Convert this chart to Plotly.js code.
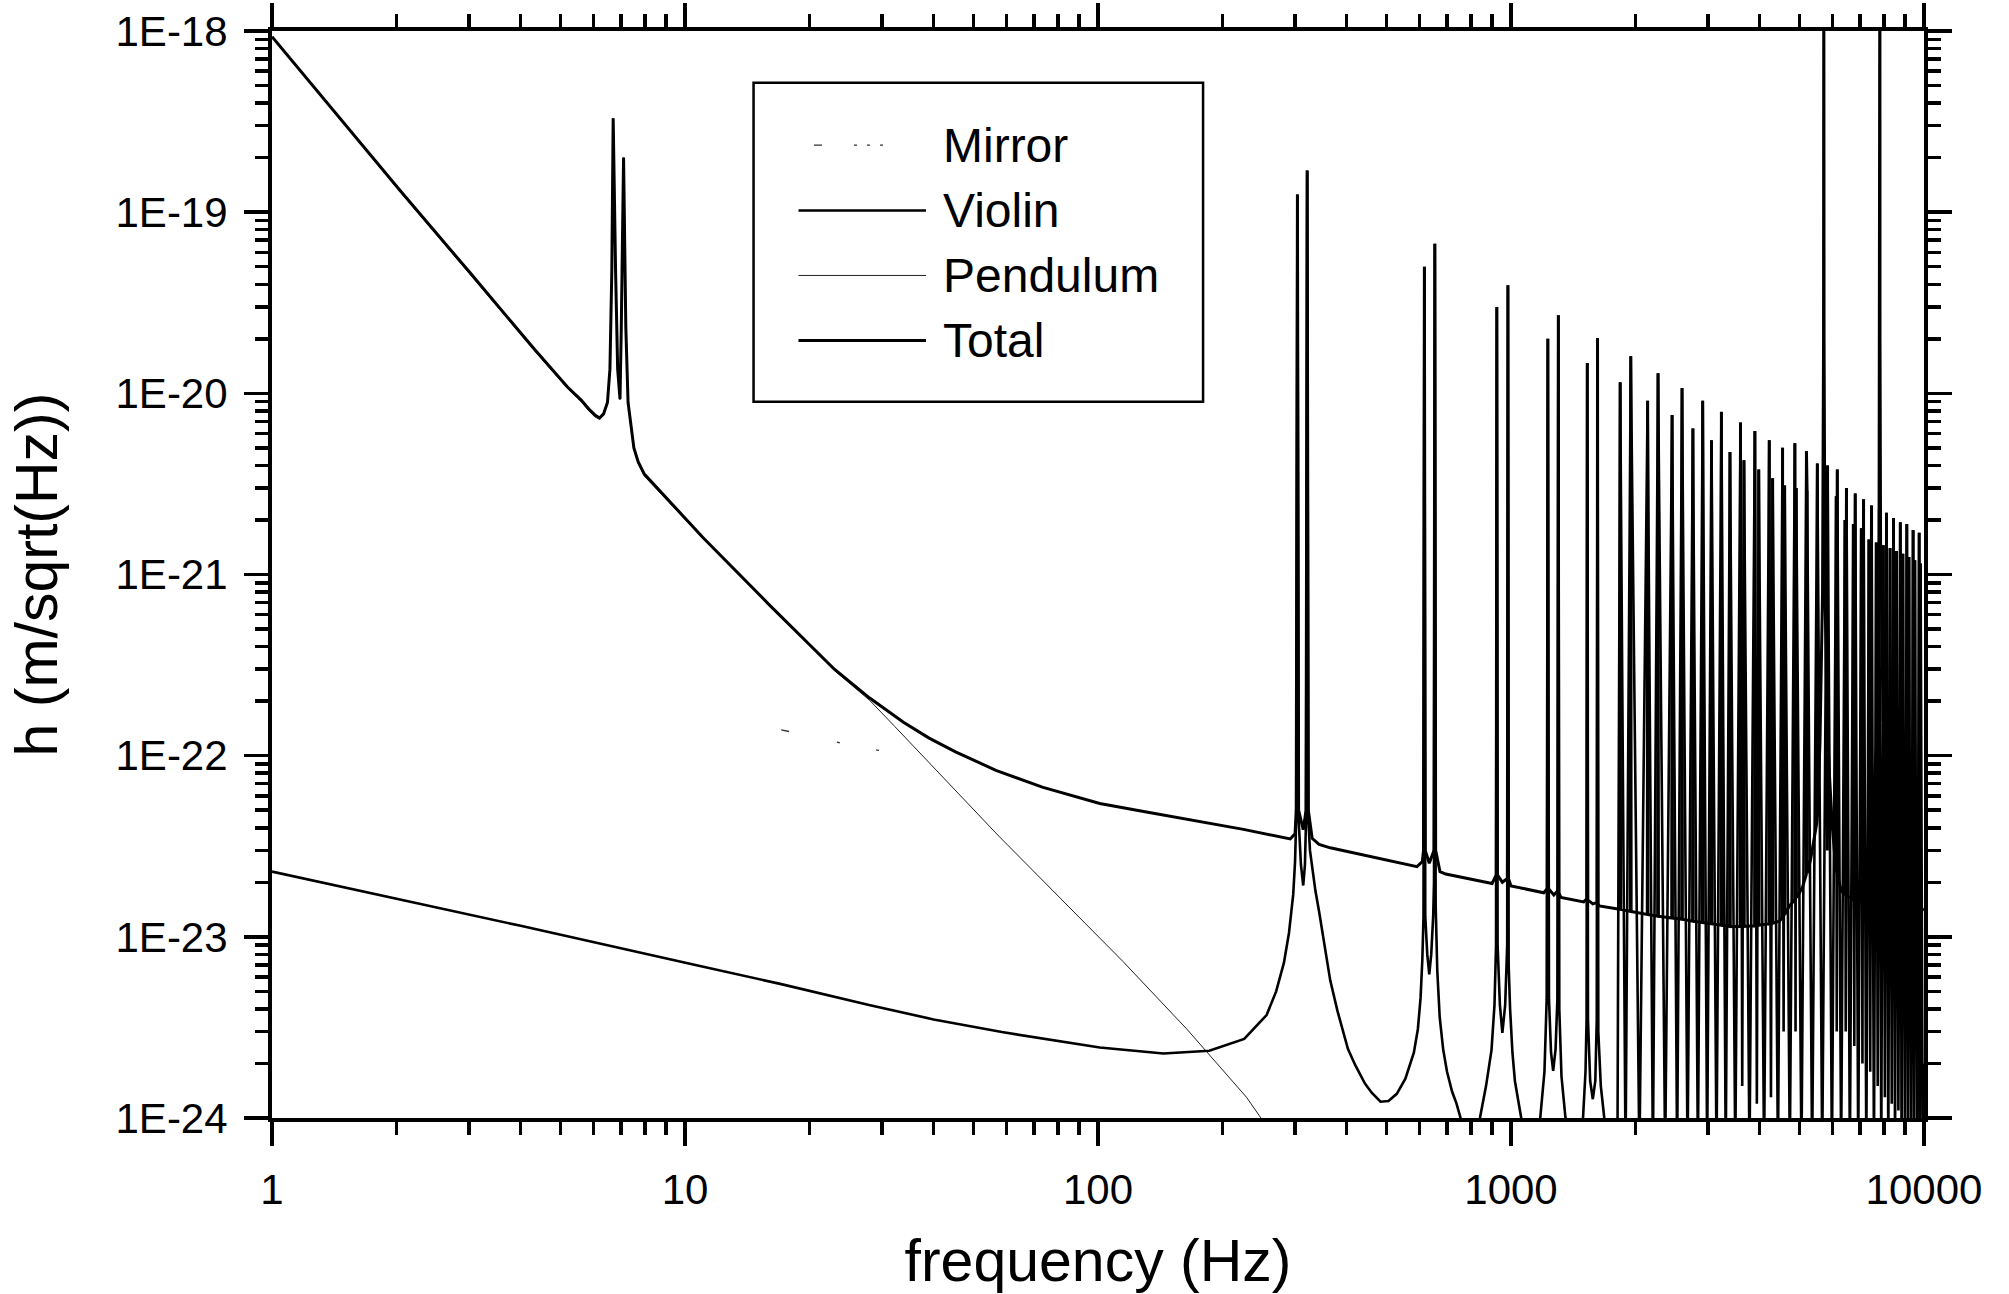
<!DOCTYPE html>
<html><head><meta charset="utf-8">
<script src="https://cdn.plot.ly/plotly-3.0.1.min.js"></script>
<style>html,body{margin:0;padding:0;background:#fff}</style>
</head><body><div id="chart" style="width:2009px;height:1294px"></div>
<script>
const SERIES_NAMES = ['Mirror', 'Violin', 'Pendulum', 'Total'];
const X_TICK_VALUES = [1, 10, 100, 1000, 10000];
const X_TICK_TEXT = ['1', '10', '100', '1000', '10000'];
const Y_TICK_VALUES = [1e-18, 1e-19, 1e-20, 1e-21, 1e-22, 1e-23, 1e-24];
const Y_TICK_TEXT = ['1E-18', '1E-19', '1E-20', '1E-21', '1E-22', '1E-23', '1E-24'];
const X_TITLE = 'frequency (Hz)';
const Y_TITLE = 'h (m/sqrt(Hz))';

// [frequency Hz, h]
const PENDULUM = [[1,9.3e-19],[2.04,1.3e-19],[3.0,4.6e-20],[4.32,1.72e-20],[5.2,1.06e-20],[5.6,9.0e-21],[5.85,8.0e-21],[6.05,7.4e-21],[6.21,7.2e-21],[6.35,7.6e-21],[6.49,8.8e-21],[6.58,1.35e-20],[6.65,4.8e-20],[6.70,3.3e-19],[6.79,4.8e-20],[6.87,1.35e-20],[6.96,9.2e-21],[7.01,2.3e-20],[7.10,2.0e-19],[7.19,2.3e-20],[7.28,8.8e-21],[7.41,6.3e-21],[7.52,4.9e-21],[7.7,4.1e-21],[7.96,3.5e-21],[11.05,1.58e-21],[16.0,6.75e-22],[23.0,2.95e-22],[28,2.02e-22],[32.2,1.45e-22],[57.5,3.6e-23],[115,7.3e-24],[164,3.1e-24],[229,1.3e-24],[248,1.0e-24],[300,6e-25]];

const MIRROR = [[17.1,1.39e-22],[23.2,1.19e-22],[29.4,1.07e-22],[45.2,8.8e-23],[57.5,7.8e-23],[73.3,6.5e-23],[101,5.35e-23],[130,4.8e-23],[164,4.4e-23],[225,3.88e-23],[292,3.45e-23],[343,3.2e-23],[365,3.08e-23],[592,2.43e-23],[695,2.21e-23],[929,1.95e-23],[1000,1.9e-23],[1321,1.65e-23],[1637,1.48e-23],[2142,1.33e-23],[2858,1.21e-23],[3443,1.14e-23],[4150,1.17e-23],[4467,1.22e-23],[4720,1.48e-23],[4977,1.72e-23],[5085,1.9e-23],[5310,2.65e-23],[5486,4.1e-23],[5600,1.2e-22],[5680,8e-22],[5712,2e-20],[5720,5e-18],[5728,2e-20],[5760,8e-22],[5850,1.2e-22],[6000,4e-23],[6300,1.8e-23],[6800,1.6e-23],[7200,2.2e-23],[7500,4e-23],[7700,1.5e-22],[7790,1.5e-21],[7815,2e-20],[7820,5e-18],[7825,2e-20],[7850,1.5e-21],[7950,1.5e-22],[8400,2.5e-23],[9000,1.7e-23],[10000,1.4e-23]];

const VIOLIN = [[1,2.29e-23],[4,1.15e-23],[10.6,7.0e-24],[17,5.5e-24],[27.9,4.2e-24],[40,3.5e-24],[58.5,2.98e-24],[75,2.72e-24],[101,2.45e-24],[144,2.27e-24],[186,2.35e-24],[226,2.73e-24],[256,3.7e-24],[270,5.0e-24],[282,7.2e-24],[290,1.05e-23],[297,1.72e-23],[300,2.6e-23],[302,4.5e-23],[304,1.25e-19],[306,4.5e-23],[310,2.5e-23],[314,1.92e-23],[317,2.5e-23],[319,4.5e-23],[321,1.7e-19],[323,4.5e-23],[326,3.0e-23],[330,2.4e-23],[336,1.8e-23],[343,1.38e-23],[352,9.5e-24],[365,5.75e-24],[380,3.9e-24],[403,2.4e-24],[420,1.95e-24],[443,1.55e-24],[460,1.38e-24],[483,1.23e-24],[505,1.24e-24],[529,1.36e-24],[555,1.65e-24],[582,2.3e-24],[595,3.1e-24],[604,4.6e-24],[610,7.5e-24],[614,1.3e-23],[617,5.0e-20],[620,1.3e-23],[627,8e-24],[634,6.2e-24],[641,8e-24],[648,1.3e-23],[651,2e-23],[654,6.7e-20],[657,1.5e-23],[663,6.5e-24],[672,3.6e-24],[685,2.4e-24],[700,1.8e-24],[720,1.4e-24],[738,1.2e-24],[755,1.0e-24],[790,6e-25],
[841,1.0e-24],[870,1.5e-24],[897,2.37e-24],[912,4.2e-24],[920,9e-24],[924,3.0e-20],[928,9e-24],[940,4.2e-24],[953,2.95e-24],[968,4.2e-24],[979,9e-24],[983,3.95e-20],[987,7e-24],[995,4e-24],[1008,2.3e-24],[1022,1.6e-24],[1056,1.0e-24],[1100,6e-25],
[1177,1.0e-24],[1205,1.8e-24],[1220,4.5e-24],[1228,2.0e-20],[1236,4.5e-24],[1250,2.3e-24],[1265,1.82e-24],[1282,2.4e-24],[1295,4.5e-24],[1302,2.7e-20],[1309,4e-24],[1325,1.7e-24],[1355,1.0e-24],[1400,6e-25],
[1494,1.0e-24],[1515,1.8e-24],[1524,3.5e-24],[1530,1.47e-20],[1536,3.5e-24],[1555,1.6e-24],[1578,1.27e-24],[1600,1.6e-24],[1613,3.5e-24],[1620,2.02e-20],[1627,3e-24],[1650,1.5e-24],[1682,1.0e-24],[1720,6e-25],
[1810,6e-25],[1838,1.15e-20],[1894,6e-25],[1950,1.6e-20],[2046,6e-25],[2142,9.1e-21],[2206,6e-25],[2270,1.29e-20],[2362,6e-25],[2455,7.6e-21],[2525,6e-25],[2595,1.07e-20],[2676,6e-25],[2757,6.4e-21],[2835,6e-25],[2912,9.1e-21],[2985,6e-25],[3058,5.5e-21],[3145,6e-25],[3232,7.9e-21],[3311,6e-25],[3390,4.75e-21],[3492,6e-25],[3595,6.9e-21],[3630,1.5e-24],[3665,4.27e-21],[3780,6e-25],[3895,6.2e-21],[3938,1.2e-24],[3980,3.8e-21],[4100,6e-25],[4220,5.5e-21],[4260,1.3e-24],[4300,3.4e-21],[4430,6e-25],[4545,5.0e-21],[4572,3e-24],[4598,3.1e-21],[4733,6e-25],[4868,5.3e-21],[4886,3e-24],[4904,3.0e-21],[5050,6e-25],[5192,4.8e-21],[5201,3e-23],[5211,2.9e-21],[5360,6e-25],[5517,4.1e-21],[5670,6e-25],[5824,2.8e-21],[5832,3e-23],[5841,4.0e-21],[5985,6e-25],[6130,2.7e-21],[6148,3e-24],[6166,3.8e-21],[6300,6e-25],[6437,2.0e-21],[6463,3e-24],[6490,3.0e-21],[6615,6e-25],[6743,1.9e-21],[6780,2.5e-24],[6815,2.8e-21],[6930,6e-25],[7050,1.8e-21],[7095,2e-24],[7139,2.6e-21],[7250,6e-25],[7356,1.56e-21],[7410,1.8e-24],[7464,2.4e-21],[7565,6e-25],[7663,1.5e-21],[7725,1.5e-24],[7788,2.3e-21],[7880,6e-25],[7969,1.45e-21],[8040,1.3e-24],[8113,2.19e-21],[8195,6e-25],[8276,1.4e-21],[8355,1.2e-24],[8437,2.05e-21],[8510,6e-25],[8582,1.35e-21],[8670,1.1e-24],[8762,1.94e-21],[8825,6e-25],[8889,1.3e-21],[8985,1.0e-24],[9086,1.9e-21],[9140,6e-25],[9195,1.25e-21],[9300,9e-25],[9411,1.76e-21],[9455,6e-25],[9502,1.2e-21],[9620,8e-25],[9735,1.7e-21],[9770,6e-25],[9808,1.15e-21],[9930,6e-25],[10000,2e-24]];

const TOTAL = [[1,9.3e-19],[2.04,1.32e-19],[3.0,4.7e-20],[4.32,1.75e-20],[5.2,1.08e-20],[5.6,9.2e-21],[5.85,8.2e-21],[6.05,7.6e-21],[6.21,7.3e-21],[6.35,7.7e-21],[6.49,8.9e-21],[6.58,1.36e-20],[6.65,4.8e-20],[6.70,3.3e-19],[6.79,4.8e-20],[6.87,1.36e-20],[6.96,9.3e-21],[7.01,2.3e-20],[7.10,2.0e-19],[7.19,2.3e-20],[7.28,8.9e-21],[7.41,6.4e-21],[7.52,5.0e-21],[7.7,4.2e-21],[7.96,3.6e-21],[11.05,1.6e-21],[16.0,6.8e-22],[23.0,3.0e-22],[28,2.08e-22],[33.8,1.53e-22],[39,1.25e-22],[45.2,1.05e-22],[56.6,8.3e-23],[73.3,6.7e-23],[101,5.45e-23],[130,4.9e-23],[164,4.45e-23],[225,3.92e-23],[292,3.47e-23],[300,3.7e-23],
[302,5e-23],[304,1.25e-19],[306,5e-23],[314,3.9e-23],[319,5e-23],[321,1.7e-19],[323,5e-23],[330,3.5e-23],[343,3.24e-23],[365,3.1e-23],[592,2.44e-23],[610,2.6e-23],
[614,3e-23],[617,5.0e-20],[620,3e-23],[634,2.55e-23],[651,3e-23],[654,6.7e-20],[657,3e-23],[673,2.29e-23],[695,2.22e-23],[900,1.97e-23],
[921,2.2e-23],[924,3.0e-20],[927,2.2e-23],[953,2e-23],[980,2.1e-23],[983,3.95e-20],[986,2.1e-23],[1000,1.91e-23],[1200,1.75e-23],
[1225,1.85e-23],[1228,2.0e-20],[1231,1.85e-23],[1270,1.7e-23],[1299,1.8e-23],[1302,2.7e-20],[1305,1.75e-23],[1321,1.65e-23],[1500,1.56e-23],
[1526,1.62e-23],[1530,1.47e-20],[1534,1.6e-23],[1578,1.52e-23],[1616,1.55e-23],[1620,2.02e-20],[1624,1.52e-23],[1637,1.48e-23],[1800,1.43e-23],
[1834,1.42e-23],[1838,1.15e-20],[1842,1.42e-23],[1946,1.38e-23],[1950,1.6e-20],[1954,1.38e-23],
[2138,1.33e-23],[2142,9.1e-21],[2146,1.33e-23],[2265,1.3e-23],[2270,1.29e-20],[2275,1.3e-23],
[2450,1.27e-23],[2455,7.6e-21],[2460,1.27e-23],[2590,1.25e-23],[2595,1.07e-20],[2600,1.25e-23],
[2752,1.22e-23],[2757,6.4e-21],[2762,1.22e-23],[2906,1.2e-23],[2912,9.1e-21],[2918,1.2e-23],
[3052,1.18e-23],[3058,5.5e-21],[3064,1.18e-23],[3226,1.16e-23],[3232,7.9e-21],[3238,1.16e-23],
[3384,1.14e-23],[3390,4.75e-21],[3396,1.14e-23],[3589,1.14e-23],[3595,6.9e-21],[3601,1.14e-23],
[3659,1.14e-23],[3665,4.27e-21],[3671,1.14e-23],[3889,1.15e-23],[3895,6.2e-21],[3901,1.15e-23],
[3974,1.16e-23],[3980,3.8e-21],[3986,1.16e-23],[4214,1.18e-23],[4220,5.5e-21],[4226,1.18e-23],
[4294,1.19e-23],[4300,3.4e-21],[4306,1.19e-23],[4467,1.22e-23],
[4539,1.28e-23],[4545,5.0e-21],[4551,1.28e-23],[4592,1.33e-23],[4598,3.1e-21],[4604,1.33e-23],[4720,1.48e-23],
[4862,1.6e-23],[4868,5.3e-21],[4874,1.6e-23],[4898,1.65e-23],[4904,3.0e-21],[4910,1.65e-23],[4977,1.72e-23],[5085,1.9e-23],
[5186,2.2e-23],[5192,4.8e-21],[5201,2.25e-23],[5211,2.9e-21],[5217,2.25e-23],[5310,2.65e-23],[5486,4.1e-23],
[5511,4.4e-23],[5517,4.1e-21],[5523,4.6e-23],[5600,1.2e-22],[5680,8e-22],[5712,2e-20],[5720,5e-18],[5728,2e-20],[5760,8e-22],
[5818,1.7e-22],[5824,2.8e-21],[5832,1.5e-22],[5841,4.0e-21],[5847,1.35e-22],[5900,8e-23],[6000,4e-23],
[6124,2.3e-23],[6130,2.7e-21],[6148,2.25e-23],[6166,3.8e-21],[6172,2.2e-23],[6300,1.8e-23],
[6431,1.7e-23],[6437,2.0e-21],[6463,1.7e-23],[6490,3.0e-21],[6496,1.7e-23],
[6737,1.6e-23],[6743,1.9e-21],[6780,1.6e-23],[6815,2.8e-21],[6821,1.6e-23],
[7044,1.9e-23],[7050,1.8e-21],[7095,2e-23],[7139,2.6e-21],[7145,2.1e-23],
[7350,2.8e-23],[7356,1.56e-21],[7410,3.1e-23],[7464,2.4e-21],[7470,3.5e-23],
[7657,1.1e-22],[7663,1.5e-21],[7669,1.15e-22],[7700,1.5e-22],[7782,1.2e-21],[7788,2.3e-21],[7794,1.6e-21],[7815,2e-20],[7820,5e-18],[7825,2e-20],[7850,1.5e-21],
[7963,1.55e-22],[7969,1.45e-21],[7975,1.45e-22],[8107,6.2e-23],[8113,2.19e-21],[8119,6e-23],
[8270,3.6e-23],[8276,1.4e-21],[8282,3.6e-23],[8431,2.6e-23],[8437,2.05e-21],[8443,2.6e-23],
[8576,2.2e-23],[8582,1.35e-21],[8588,2.2e-23],[8756,1.9e-23],[8762,1.94e-21],[8768,1.9e-23],
[8883,1.8e-23],[8889,1.3e-21],[8895,1.8e-23],[9080,1.7e-23],[9086,1.9e-21],[9092,1.7e-23],
[9189,1.65e-23],[9195,1.25e-21],[9201,1.65e-23],[9405,1.55e-23],[9411,1.76e-21],[9417,1.55e-23],
[9496,1.52e-23],[9502,1.2e-21],[9508,1.52e-23],[9729,1.47e-23],[9735,1.7e-21],[9741,1.47e-23],
[9802,1.45e-23],[9808,1.15e-21],[9814,1.45e-23],[10000,1.4e-23]];

const FONT = 'Liberation Sans, Arial, Helvetica, sans-serif';
const STYLES = {
  Mirror:   {color: '#333', width: 1.3, dash: '8px,49px,3px,37px,3px,600px'},
  Violin:   {color: '#000', width: 2.6},
  Pendulum: {color: '#222', width: 1.0},
  Total:    {color: '#000', width: 3}
};
const LEGEND_SAMPLE_DASH = {Mirror: '8px,32px,3px,10px,3px,10px,3px,300px'};
const DATA = {Mirror: MIRROR, Violin: VIOLIN, Pendulum: PENDULUM, Total: TOTAL};
const DRAW_ORDER = ['Pendulum', 'Mirror', 'Violin', 'Total'];

const traces = DRAW_ORDER.map(name => ({
  type: 'scatter', mode: 'lines', name: name,
  x: DATA[name].map(p => p[0]), y: DATA[name].map(p => p[1]),
  line: STYLES[name], showlegend: false, hoverinfo: 'x+y+name'
}));

function minorVals(lo, hi) {
  const v = [];
  for (let e = lo; e < hi; e++) for (let k = 2; k <= 9; k++) v.push(k * Math.pow(10, e));
  return v;
}

const axisCommon = {
  type: 'log', showgrid: false, zeroline: false, showline: true,
  linecolor: '#000', linewidth: 4, mirror: 'ticks',
  ticks: 'outside', ticklen: 24, tickwidth: 3.5, tickcolor: '#000',
  tickmode: 'array',
  tickfont: {family: FONT, size: 42, color: '#000'}
};

// custom legend box (frame, line samples, labels)
const LEG = {x0: 0.2915, x1: 0.5636, y0: 0.6589, y1: 0.9524, lx0: 0.3187, lx1: 0.3959, tx: 0.405,
             dashStart: 0.3281, rows: [0.8951, 0.8349, 0.7751, 0.7152]};
const shapes = [{type: 'rect', xref: 'paper', yref: 'paper', x0: LEG.x0, x1: LEG.x1, y0: LEG.y0, y1: LEG.y1,
                 line: {color: '#000', width: 2.5}, fillcolor: 'rgba(0,0,0,0)'}];
const annotations = [];
SERIES_NAMES.forEach((name, i) => {
  const sampleLine = Object.assign({}, STYLES[name]);
  let x0 = LEG.lx0;
  if (LEGEND_SAMPLE_DASH[name]) { sampleLine.dash = LEGEND_SAMPLE_DASH[name]; x0 = LEG.dashStart; }
  shapes.push({type: 'line', xref: 'paper', yref: 'paper', x0: x0, x1: LEG.lx1, y0: LEG.rows[i], y1: LEG.rows[i],
               line: sampleLine});
  annotations.push({xref: 'paper', yref: 'paper', x: LEG.tx, y: LEG.rows[i], xanchor: 'left', yanchor: 'middle',
                    text: name, showarrow: false, font: {family: FONT, size: 48, color: '#000'}});
});

const layout = {
  width: 2009, height: 1294,
  margin: {l: 272, r: 85, t: 31, b: 176},
  paper_bgcolor: '#fff', plot_bgcolor: '#fff',
  font: {family: FONT, color: '#000'},
  showlegend: false,
  xaxis: Object.assign({}, axisCommon, {
    range: [0, 4], tickvals: X_TICK_VALUES, ticktext: X_TICK_TEXT, ticklabelstandoff: 8,
    minor: {tickmode: 'array', tickvals: minorVals(0, 4), ticks: 'outside', ticklen: 13, tickwidth: 3.5, tickcolor: '#000', showgrid: false},
    title: {text: X_TITLE, font: {family: FONT, size: 59, color: '#000'}, standoff: 38}
  }),
  yaxis: Object.assign({}, axisCommon, {
    range: [-24, -18], tickvals: Y_TICK_VALUES, ticktext: Y_TICK_TEXT, ticklabelstandoff: 8,
    minor: {tickmode: 'array', tickvals: minorVals(-24, -18), ticks: 'outside', ticklen: 13, tickwidth: 3.5, tickcolor: '#000', showgrid: false},
    title: {text: Y_TITLE, font: {family: FONT, size: 59, color: '#000'}, standoff: 40}
  }),
  shapes: shapes,
  annotations: annotations
};

Plotly.newPlot('chart', traces, layout, {displayModeBar: false, staticPlot: true});
</script>
</body></html>
